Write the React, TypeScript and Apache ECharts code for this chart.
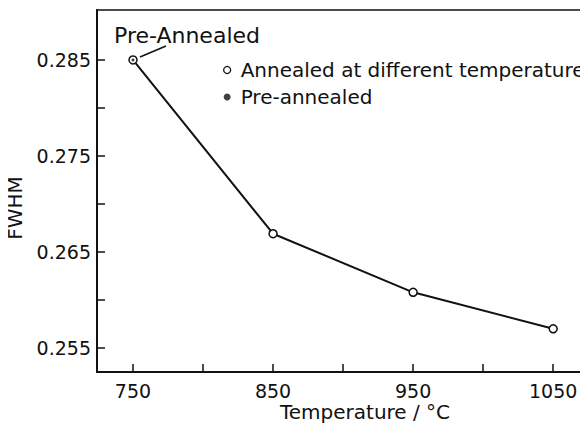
import React, { useEffect, useRef } from "react";
import * as echarts from "echarts";

const temperatures = [750, 850, 950, 1050];
const fwhmValues = [0.285, 0.2669, 0.2608, 0.257];
const preAnnealed = [[750, 0.285]];
const xTickValues = [750, 800, 850, 900, 950, 1000, 1050];
const xLabelValues = [750, 850, 950, 1050];
const yTickValues = [0.255, 0.26, 0.265, 0.27, 0.275, 0.28, 0.285];
const yLabelValues = [0.255, 0.265, 0.275, 0.285];

const FONT = "DejaVu Sans";

export default function App() {
  const ref = useRef<HTMLDivElement>(null);
  useEffect(() => {
    if (!ref.current) return;
    const chart = echarts.init(ref.current, undefined, { renderer: "svg" });
    chart.setOption({
      animation: false,
      backgroundColor: "#fff",
      textStyle: { fontFamily: FONT, color: "#111" },
      grid: {
        left: 97,
        top: 10,
        width: 487,
        height: 362,
        show: true,
        borderColor: "#111",
        borderWidth: 1.5,
      },
      legend: {
        orient: "vertical",
        left: 218,
        top: 55,
        itemGap: 7,
        itemWidth: 7,
        itemHeight: 7,
        textStyle: {
          fontFamily: FONT,
          fontSize: 20,
          color: "#111",
          padding: [0, 0, 0, 5],
        },
        data: [
          {
            name: "Annealed at different temperature",
            icon: "circle",
            itemStyle: { color: "#fff", borderColor: "#111", borderWidth: 1.3 },
          },
          {
            name: "Pre-annealed",
            icon: "circle",
            itemStyle: { color: "#111", borderWidth: 0 },
          },
        ],
      },
      xAxis: {
        type: "value",
        min: 724.3,
        max: 1072,
        axisLine: { show: true, lineStyle: { color: "#111", width: 2 } },
        axisTick: {
          show: true,
          inside: true,
          length: 8,
          lineStyle: { color: "#111", width: 1.5 },
          customValues: xTickValues,
        },
        axisLabel: {
          customValues: xLabelValues,
          fontFamily: FONT,
          fontSize: 19,
          color: "#111",
          margin: 9,
          formatter: (v: number) => String(v),
        },
        splitLine: { show: false },
      },
      yAxis: {
        type: "value",
        min: 0.2525,
        max: 0.2902,
        axisLine: { show: true, lineStyle: { color: "#111", width: 2 } },
        axisTick: {
          show: true,
          inside: true,
          length: 8,
          lineStyle: { color: "#111", width: 1.5 },
          customValues: yTickValues,
        },
        axisLabel: {
          customValues: yLabelValues,
          fontFamily: FONT,
          fontSize: 19,
          color: "#111",
          margin: 6,
          formatter: (v: number) => v.toFixed(3),
        },
        splitLine: { show: false },
      },
      series: [
        {
          name: "Annealed at different temperature",
          type: "line",
          data: temperatures.map((t, i) => [t, fwhmValues[i]]),
          symbol: "circle",
          symbolSize: 8,
          showAllSymbol: true,
          lineStyle: { color: "#111", width: 2 },
          itemStyle: { color: "#fff", borderColor: "#111", borderWidth: 1.5 },
          z: 2,
        },
        {
          name: "Pre-annealed",
          type: "scatter",
          data: preAnnealed,
          symbol: "circle",
          symbolSize: 3,
          itemStyle: { color: "#111" },
          z: 3,
        },
      ],
      graphic: [
        {
          type: "text",
          left: 114,
          top: 24,
          style: { text: "Pre-Annealed", font: `22px '${FONT}'`, fill: "#111" },
        },
        {
          type: "line",
          shape: { x1: 140, y1: 57, x2: 166, y2: 46 },
          style: { stroke: "#111", lineWidth: 1.5 },
        },
        {
          type: "text",
          x: 15,
          y: 208,
          rotation: Math.PI / 2,
          style: {
            text: "FWHM",
            font: `20px '${FONT}'`,
            fill: "#111",
            align: "center",
            verticalAlign: "middle",
          },
        },
        {
          type: "text",
          x: 365,
          y: 412,
          style: {
            text: "Temperature / °C",
            font: `20px '${FONT}'`,
            fill: "#111",
            align: "center",
            verticalAlign: "middle",
          },
        },
      ],
    });
    return () => chart.dispose();
  }, []);
  return <div ref={ref} style={{ width: 588, height: 446, margin: -8 }} />;
}
